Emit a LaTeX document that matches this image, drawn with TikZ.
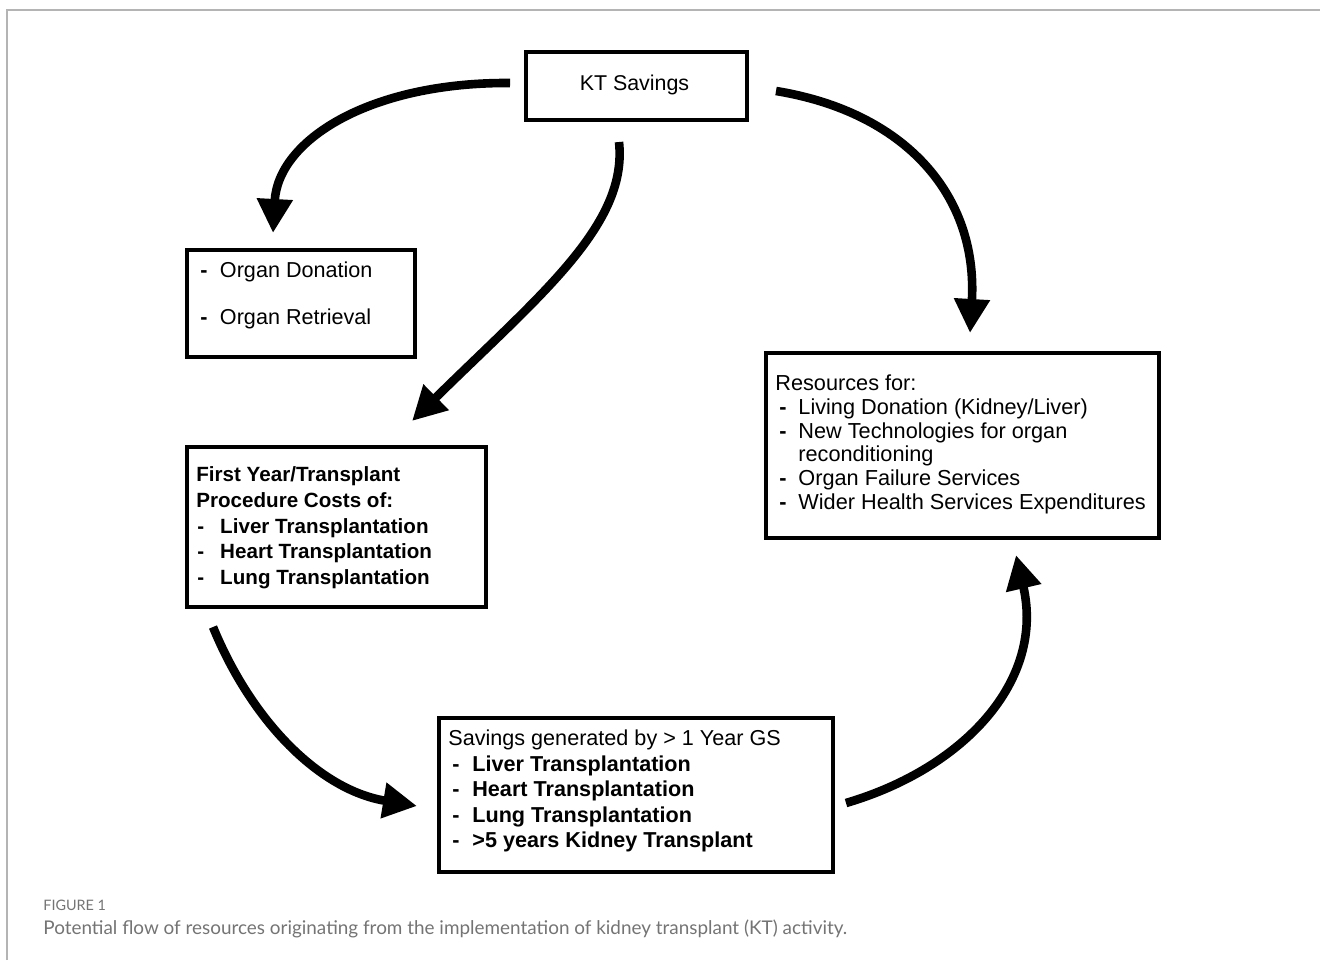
\documentclass[tikz,border=0pt]{standalone}
\usepackage{fontspec}
\setmainfont{Liberation Sans}
\newfontfamily\capfont{Lato}
\usetikzlibrary{arrows.meta}
\definecolor{framegray}{HTML}{B4B4B4}
\definecolor{capgray}{HTML}{747474}
\newcommand{\bdash}{\textbf{-}}
\begin{document}
\begin{tikzpicture}[x=0.5pt,y=-0.5pt,
  box/.style={draw, line width=1.8pt, inner sep=0pt, anchor=north west},
  txt/.style={inner sep=0pt, anchor=base west, align=left},
  flow/.style={line width=4.3pt, -{Triangle[width=17pt,length=17pt]}},
  captext/.style={inner sep=0pt, anchor=base west, text=capgray}]
\useasboundingbox (0,0) rectangle (1320,960);
% outer frame (top and left edges visible)
\draw[framegray, line width=0.8pt] (7,960) -- (7,10) -- (1320,10);

% boxes
\node[box, minimum width=110.5pt, minimum height=34pt] (kt) at (524,50) {};
\node[inner sep=0pt, font=\fontsize{10.7}{13}\selectfont] (kttext) at (634.5,85) {KT Savings};

\node[box, minimum width=114pt, minimum height=53.5pt] (organ) at (185,248) {};
\node[txt, font=\fontsize{10.8}{23.5}\selectfont] (organtext) at (200,277)
  {\begin{tabular}[t]{@{}l@{\hspace{6.2pt}}l@{}}
   \bdash & Organ Donation\\
   \bdash & Organ Retrieval
   \end{tabular}};

\node[box, minimum width=149.5pt, minimum height=80pt] (first) at (185,445) {};
\node[txt, font=\fontsize{10.3}{12.9}\selectfont\bfseries] (firsttext) at (196,481.5)
  {\begin{tabular}[t]{@{\hspace{0.5pt}}l@{\hspace{8pt}}l@{}}
   \multicolumn{2}{@{}l@{}}{First Year/Transplant}\\
   \multicolumn{2}{@{}l@{}}{Procedure Costs of:}\\
   - & Liver Transplantation\\
   - & Heart Transplantation\\
   - & Lung Transplantation
   \end{tabular}};

\node[box, minimum width=196.5pt, minimum height=92.5pt] (res) at (764,351) {};
\node[txt, font=\fontsize{10.85}{11.9}\selectfont] (restext) at (775,390.5)
  {\begin{tabular}[t]{@{\hspace{2pt}}l@{\hspace{5.9pt}}l@{}}
   \multicolumn{2}{@{}l@{}}{Resources for:}\\
   \bdash & Living Donation (Kidney/Liver)\\
   \bdash & New Technologies for organ\\
     & reconditioning\\
   \bdash & Organ Failure Services\\
   \bdash & Wider Health Services Expenditures
   \end{tabular}};

\node[box, minimum width=197pt, minimum height=77pt] (sav) at (437,716) {};
\node[txt, font=\fontsize{10.8}{12.75}\selectfont] (savtext) at (448,745.5)
  {\begin{tabular}[t]{@{\hspace{2pt}}l@{\hspace{6.4pt}}l@{}}
   \multicolumn{2}{@{}l@{}}{Savings generated by > 1 Year GS}\\
   \bdash & \textbf{Liver Transplantation}\\
   \bdash & \textbf{Heart Transplantation}\\
   \bdash & \textbf{Lung Transplantation}\\
   \bdash & \textbf{>5 years Kidney Transplant}
   \end{tabular}};

% connector end points
\coordinate (a1s) at (510,83);   \coordinate (a1e) at (273,233);
\coordinate (a2s) at (619,142);  \coordinate (a2e) at (412,421);
\coordinate (a3s) at (776,91);   \coordinate (a3e) at (970,333);
\coordinate (a4s) at (213,627);  \coordinate (a4e) at (417,806);
\coordinate (a5s) at (846,803);  \coordinate (a5e) at (1016,555);

\draw[flow] (a1s) .. controls (370,82) and (278,140) .. (a1e);
\draw[flow] (a2s) .. controls (628,225) and (540,295) .. (a2e);
\draw[flow] (a3s) .. controls (905,112) and (978,195) .. (a3e);
\draw[flow] (a4s) .. controls (252,722) and (320,790) .. (a4e);
\draw[flow] (a5s) .. controls (965,768) and (1045,680) .. (a5e);

% caption
\node[captext, font=\capfont\fontsize{7.2}{8}\selectfont] (figlabel) at (43,910) {FIGURE 1};
\node[captext, font=\capfont\fontsize{9.45}{11}\selectfont] (figcap) at (43,934)
  {Potential flow of resources originating from the implementation of kidney transplant (KT) activity.};
\end{tikzpicture}
\end{document}
